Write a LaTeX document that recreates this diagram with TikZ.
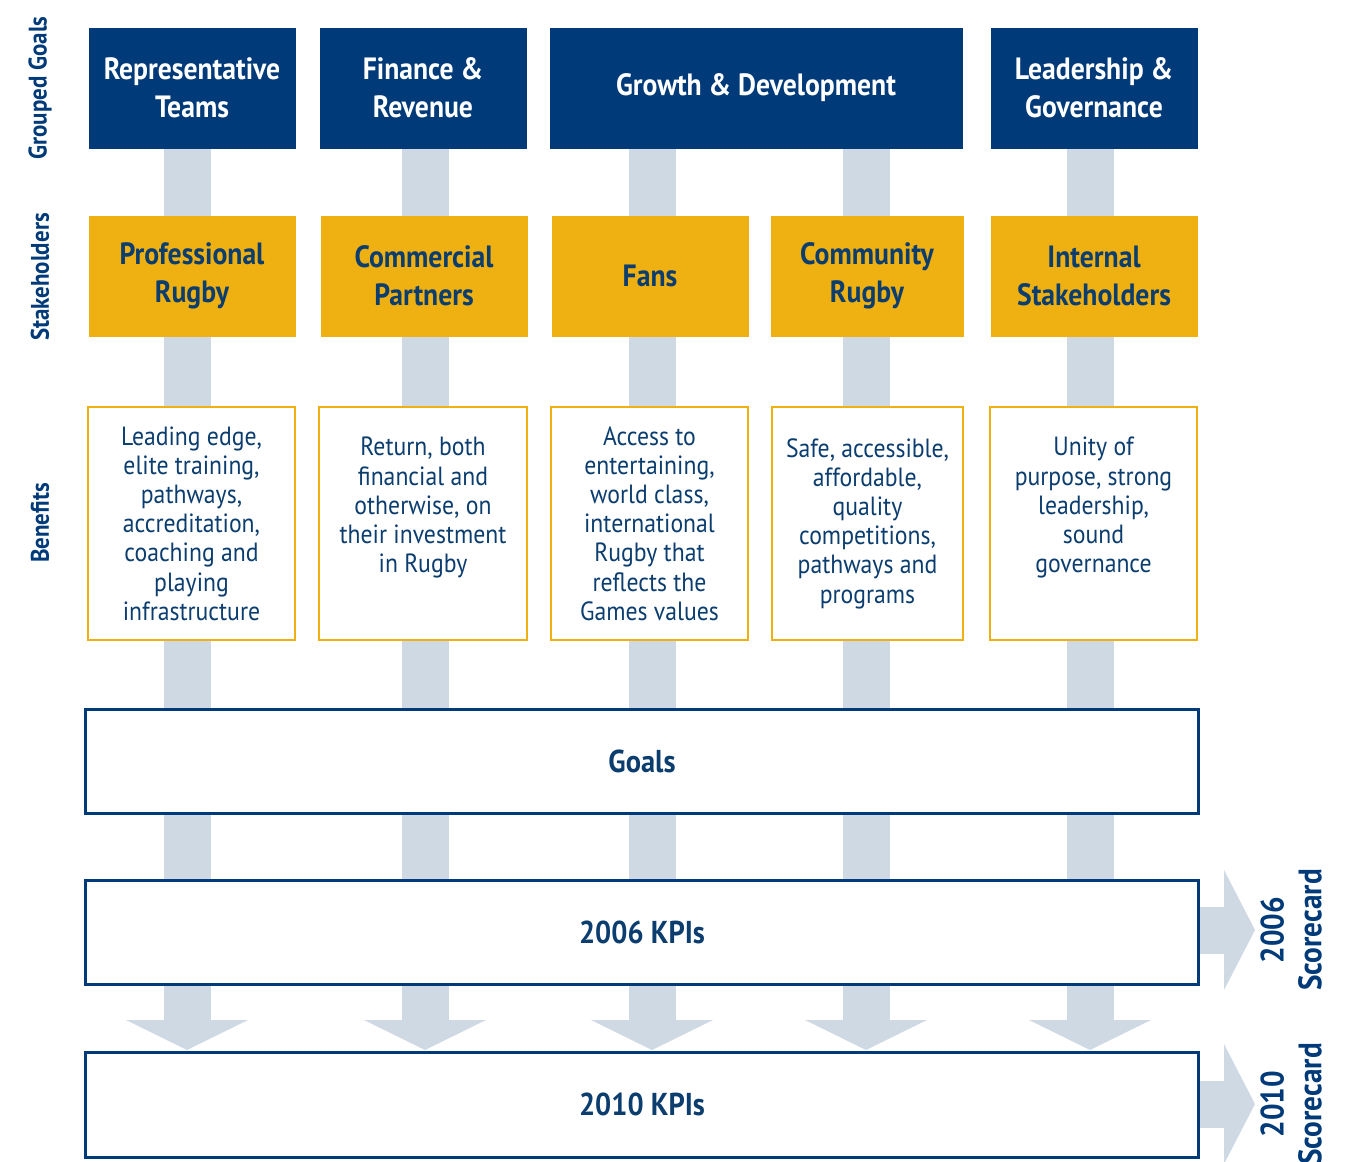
\documentclass[tikz,border=0pt]{standalone}
\usepackage{fontspec}
\setmainfont{PT Sans}[FakeStretch=0.9]
\definecolor{navy}{HTML}{003A78}
\definecolor{navytxt}{HTML}{0B3D6F}
\definecolor{gold}{HTML}{EFB112}
\definecolor{colgrey}{HTML}{CFD9E4}
\tikzset{
  goalbox/.style={fill=navy, draw=navy, text=white, font=\fontsize{17.5}{21.5}\selectfont\bfseries, align=center},
  stakebox/.style={fill=gold, draw=gold, text=navytxt, font=\fontsize{17.5}{21.5}\selectfont\bfseries, align=center},
  benbox/.style={fill=white, draw=gold, line width=1.2pt, text=navytxt, font=\fontsize{15}{16.6}\selectfont, align=center},
  kpibox/.style={fill=white, draw=navy, line width=1.7pt, text=navytxt, font=\fontsize{18}{21.5}\selectfont\bfseries, align=center},
  sidelabel/.style={rotate=90, text=navy, font=\fontsize{14.5}{17}\selectfont\bfseries},
  scorelabel/.style={rotate=90, text=navy, font=\fontsize{18.5}{21.5}\selectfont\bfseries, align=center},
  greyfill/.style={fill=colgrey, draw=none}
}
\newcommand\pbox[7]{%
  \pgfmathsetmacro\bw{(#5-#3)*0.02}\pgfmathsetmacro\bh{(#6-#4)*0.02}%
  \node[#2, minimum width=\bw cm, minimum height=\bh cm, inner sep=0pt, outer sep=0pt] (#1) at ({(#3+#5)/2},{(#4+#6)/2}) {#7};}
\begin{document}
\begin{tikzpicture}[x=0.02cm, y=-0.02cm]
\useasboundingbox (0,0) rectangle (1349,1161);
% grey down arrows
\foreach \c in {187,425,652,866,1090}{
  \fill[colgrey] (\c-23.5,148) rectangle (\c+23.5,1020);
  \fill[colgrey] (\c-61,1020) -- (\c+61,1020) -- (\c,1050) -- cycle;
}
% grey right arrows
\fill[colgrey] (1198,907) rectangle (1224,954);
\fill[colgrey] (1224,870) -- (1255,930) -- (1224,990) -- cycle;
\fill[colgrey] (1198,1081) rectangle (1224,1128);
\fill[colgrey] (1224,1044) -- (1255,1104) -- (1224,1164) -- cycle;
% grouped goals
\pbox{g1}{goalbox}{89}{28}{295}{148}{Representative\\Teams}
\pbox{g2}{goalbox}{320}{28}{526}{148}{Finance \&\\Revenue}
\pbox{g3}{goalbox}{550}{28}{962}{148}{Growth \& Development}
\pbox{g4}{goalbox}{991}{28}{1197}{148}{Leadership \&\\Governance}
% stakeholders
\pbox{s1}{stakebox}{89}{216}{295}{336}{Professional\\Rugby}
\pbox{s2}{stakebox}{321}{216}{527}{336}{Commercial\\Partners}
\pbox{s3}{stakebox}{552}{216}{748}{336}{Fans}
\pbox{s4}{stakebox}{771}{216}{963}{336}{Community\\Rugby}
\pbox{s5}{stakebox}{991}{216}{1197}{336}{Internal\\Stakeholders}
% benefits
\pbox{b1}{benbox}{88}{407}{295}{640}{Leading edge,\\elite training,\\pathways,\\accreditation,\\coaching and\\playing\\infrastructure}
\pbox{b2}{benbox}{319}{407}{527}{640}{Return, both\\financial and\\otherwise, on\\their investment\\in Rugby\\[0.3em]}
\pbox{b3}{benbox}{551}{407}{748}{640}{Access to\\entertaining,\\world class,\\international\\Rugby that\\reflects the\\Games values}
\pbox{b4}{benbox}{772}{407}{963}{640}{Safe, accessible,\\affordable,\\quality\\competitions,\\pathways and\\programs}
\pbox{b5}{benbox}{990}{407}{1197}{640}{Unity of\\purpose, strong\\leadership,\\sound\\governance\\[0.3em]}
% goals and KPIs
\pbox{goals}{kpibox}{86}{709}{1198}{813}{Goals}
\pbox{k06}{kpibox}{86}{880}{1198}{984}{2006 KPIs}
\pbox{k10}{kpibox}{86}{1052}{1198}{1157}{2010 KPIs}
% side labels
\node[sidelabel] (lgg) at (40,88) {Grouped Goals};
\node[sidelabel] (lst) at (40,277) {Stakeholders};
\node[sidelabel] (lbe) at (40,523) {Benefits};
\node[scorelabel] (sc06) at (1291,930) {2006\\Scorecard};
\node[scorelabel] (sc10) at (1291,1104) {2010\\Scorecard};
\end{tikzpicture}
\end{document}
